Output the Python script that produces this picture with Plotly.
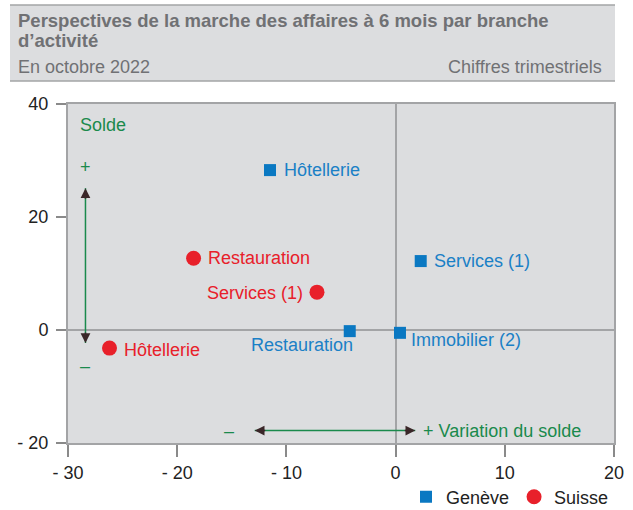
import plotly.graph_objects as go

# DATA
GENEVE_LABELS = ['Hôtellerie', 'Services (1)', 'Restauration', 'Immobilier (2)']
GENEVE_X = [-11.5, 2.3, -4.2, 0.4]
GENEVE_Y = [28.3, 12.2, -0.2, -0.5]

SUISSE_LABELS = ['Restauration', 'Services (1)', 'Hôtellerie']
SUISSE_X = [-18.5, -7.2, -26.2]
SUISSE_Y = [12.7, 6.7, -3.2]

X_TICKS = [-30, -20, -10, 0, 10, 20]
X_TICKTEXT = ['- 30', '- 20', '- 10', '0', '10', '20']
Y_TICKS = [-20, 0, 20, 40]
Y_TICKTEXT = ['- 20', '0', '20', '40']

# STYLE
BLUE = '#0a78c2'
BLUE_TXT = '#1a80c6'
RED = '#e8202a'
GREEN = '#1a8a4c'
GREY_BG = '#dcdddf'
GREY_LINE = '#a3a4a6'
TITLE_GREY = '#707174'
FONT = 'Liberation Sans, Arial, sans-serif'

# label placement (anchor, xshift, yshift) in pixels
GENEVE_POS = [('left', 12, 0), ('left', 11, 0), ('right', 5, -14), ('left', 9, -7)]
SUISSE_POS = [('left', 12, 0), ('right', -12, -1), ('left', 12, -2)]

W, H = 633, 510
L, R, T, B = 68, 19, 104, 67


def px_x(px):
    return (px - L) / (W - L - R)


def px_y(py):
    return (H - B - py) / (H - T - B)


fig = go.Figure()
fig.add_trace(go.Scatter(x=GENEVE_X, y=GENEVE_Y, name='Genève', mode='markers',
                         marker=dict(symbol='square', size=12, color=BLUE)))
fig.add_trace(go.Scatter(x=SUISSE_X, y=SUISSE_Y, name='Suisse', mode='markers',
                         marker=dict(symbol='circle', size=15, color=RED)))

ann = []
for xs, ys, labels, pos, col in [(GENEVE_X, GENEVE_Y, GENEVE_LABELS, GENEVE_POS, BLUE_TXT),
                                 (SUISSE_X, SUISSE_Y, SUISSE_LABELS, SUISSE_POS, RED)]:
    for x, y, lab, (anchor, dx, dy) in zip(xs, ys, labels, pos):
        ann.append(dict(x=x, y=y, text=lab, xref='x', yref='y', showarrow=False,
                        xanchor=anchor, yanchor='middle', xshift=dx, yshift=dy,
                        font=dict(size=18, color=col)))

# Header box
fig.add_shape(type='rect', xref='paper', yref='paper', x0=px_x(10), x1=px_x(615), y0=px_y(81), y1=px_y(5),
              fillcolor=GREY_BG, line_width=0, layer='below')
for py in (5, 81):
    fig.add_shape(type='line', xref='paper', yref='paper', x0=px_x(10), x1=px_x(615), y0=px_y(py), y1=px_y(py),
                  line=dict(color=GREY_LINE, width=1.5))

head = [
    dict(text='<b>Perspectives de la marche des affaires à 6 mois par branche</b>', x=px_x(16), y=px_y(20),
         xanchor='left', font=dict(size=18.5, color=TITLE_GREY)),
    dict(text='<b>d’activité</b>', x=px_x(16), y=px_y(41), xanchor='left', font=dict(size=18.5, color=TITLE_GREY)),
    dict(text='En octobre 2022', x=px_x(16), y=px_y(67), xanchor='left', font=dict(size=18, color=TITLE_GREY)),
    dict(text='Chiffres trimestriels', x=px_x(604), y=px_y(67), xanchor='right', font=dict(size=18, color=TITLE_GREY)),
]
for a in head:
    a.update(xref='paper', yref='paper', showarrow=False, yanchor='middle')
    ann.append(a)

# Green guide annotations
guides = [
    dict(text='Solde', x=-29.1, y=36.3, xanchor='left'),
    dict(text='+', x=-28.4, y=28.8, xanchor='center'),
    dict(text='–', x=-28.4, y=-6.3, xanchor='center'),
    dict(text='–', x=-15.3, y=-17.8, xanchor='center'),
    dict(text='+ Variation du solde', x=2.3, y=-17.8, xanchor='left'),
]
for g in guides:
    g.update(xref='x', yref='y', showarrow=False, yanchor='middle', font=dict(size=18, color=GREEN))
    ann.append(g)

# arrow heads
ARROW_DARK = '#3a2628'
for (x, y, ax, ay) in [(-28.4, 25.1, 0, 12), (-28.4, -2.3, 0, -12), (-12.9, -17.8, 12, 0), (1.8, -17.8, -12, 0)]:
    ann.append(dict(x=x, y=y, ax=ax, ay=ay, xref='x', yref='y', text='', showarrow=True,
                    arrowhead=2, arrowsize=1.3, arrowwidth=1.5, arrowcolor=ARROW_DARK))

fig.add_shape(type='line', x0=-28.4, x1=-28.4, y0=-2.3, y1=25.1, line=dict(color=GREEN, width=1.5))
fig.add_shape(type='line', x0=-12.9, x1=1.8, y0=-17.8, y1=-17.8, line=dict(color=GREEN, width=1.5))

fig.update_layout(annotations=ann)

fig.update_xaxes(range=[-30, 20], tickvals=X_TICKS, ticktext=X_TICKTEXT, showgrid=False,
                 zeroline=True, zerolinecolor=GREY_LINE, zerolinewidth=2,
                 showline=True, mirror=True, linecolor=GREY_LINE, linewidth=2,
                 ticks='outside', ticklen=12, tickcolor='#8a8a8a', tickwidth=1.5,
                 tickfont=dict(size=18, color='#222222'))
fig.update_yaxes(range=[-20, 40], tickvals=Y_TICKS, ticktext=Y_TICKTEXT, showgrid=False,
                 zeroline=True, zerolinecolor=GREY_LINE, zerolinewidth=2,
                 showline=True, mirror=True, linecolor=GREY_LINE, linewidth=2,
                 ticks='outside', ticklen=10, tickcolor='#8a8a8a', tickwidth=1.5,
                 ticklabelstandoff=4, tickfont=dict(size=18, color='#222222'))

fig.update_layout(width=W, height=H, margin=dict(l=L, r=R, t=T, b=B, pad=0, autoexpand=False),
                  paper_bgcolor='white', plot_bgcolor=GREY_BG,
                  font=dict(family=FONT, size=18, color='#222222'),
                  legend=dict(orientation='h', x=1.0, xanchor='right', y=px_y(497), yanchor='middle',
                              itemwidth=30, font=dict(size=18), bgcolor='rgba(0,0,0,0)'))

fig.write_html('out.html', config={'displayModeBar': False},
               post_script='document.body.style.margin="0px";')
